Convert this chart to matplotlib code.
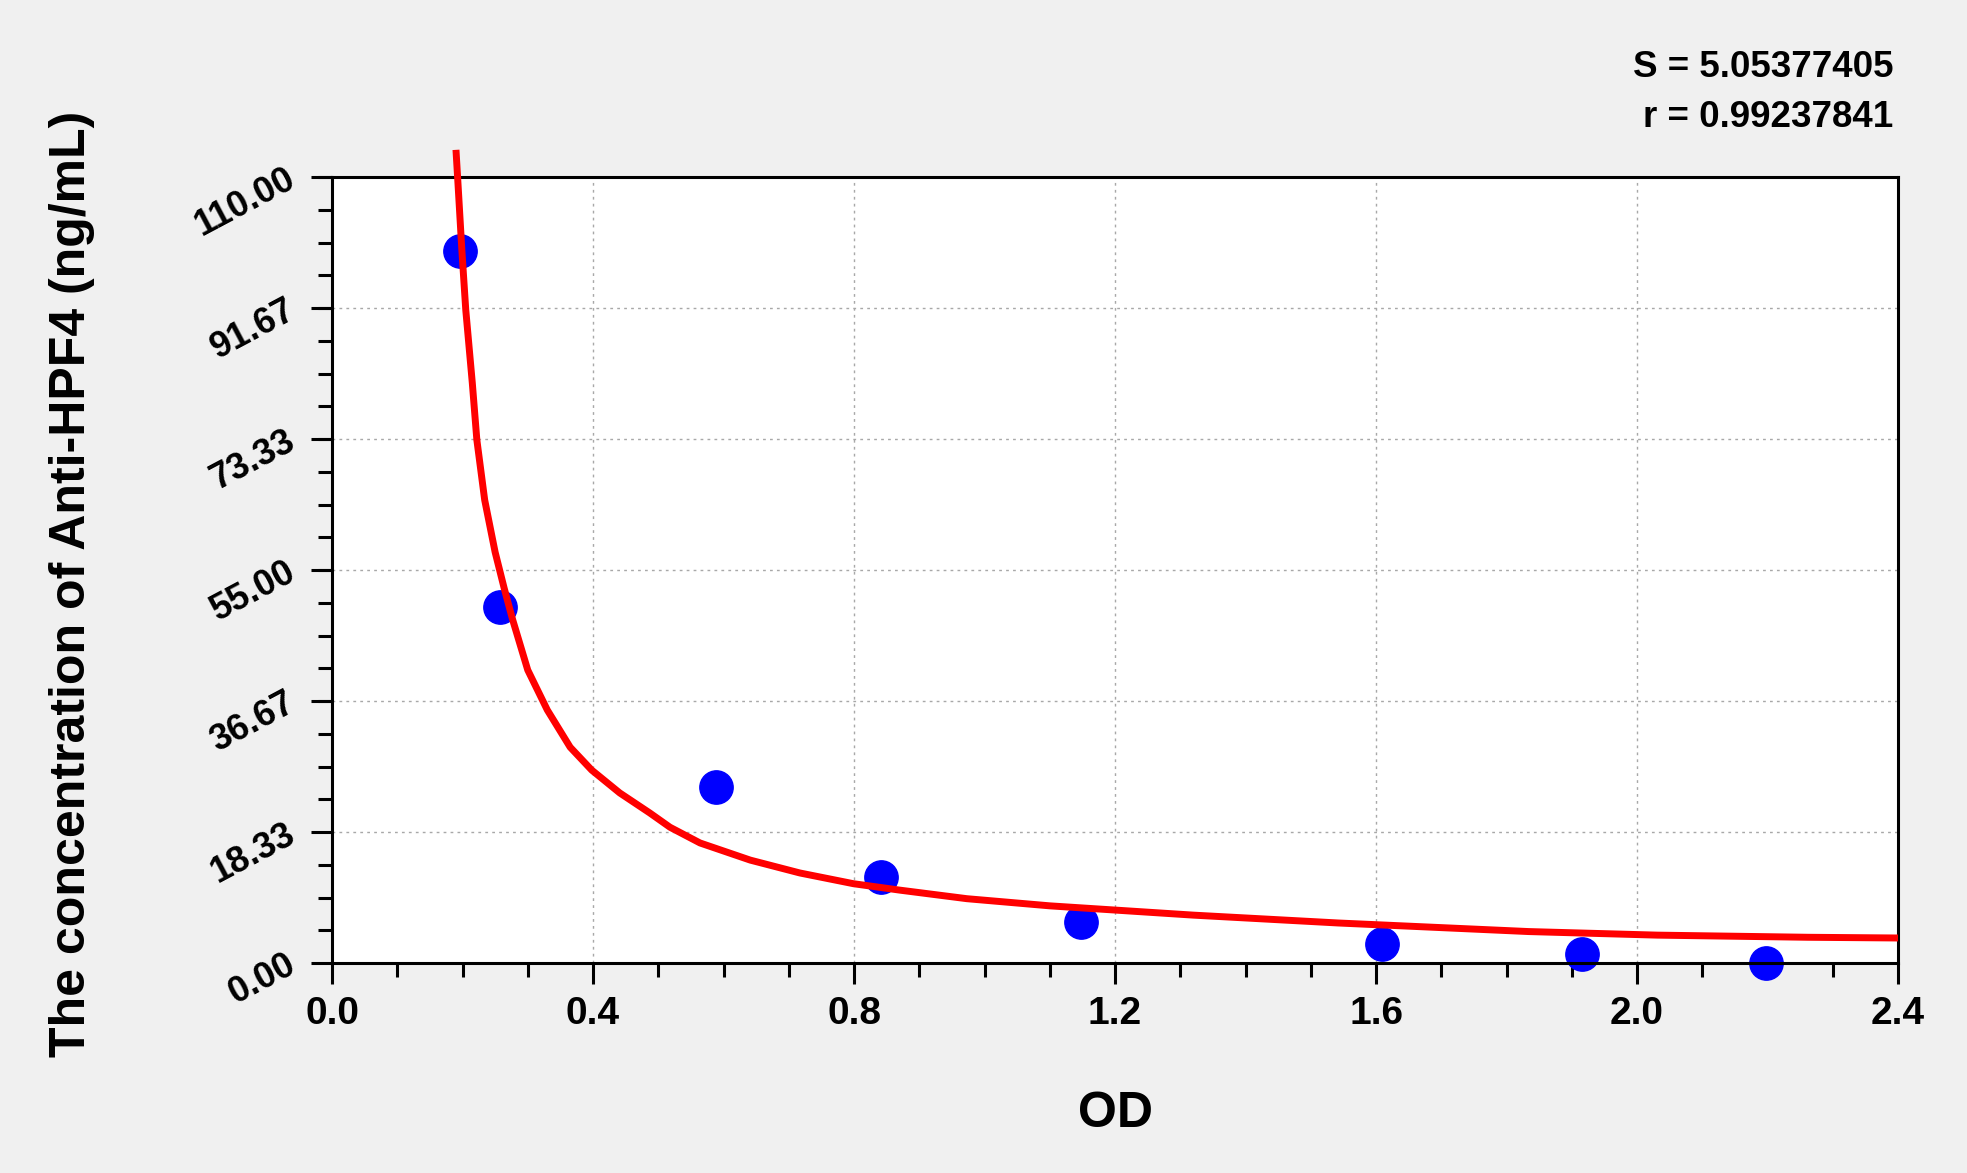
import numpy as np
import matplotlib
matplotlib.use('Agg')
import matplotlib.pyplot as plt
from matplotlib.ticker import AutoMinorLocator, FormatStrFormatter

# standard points (OD, concentration)
od = [0.196, 0.258, 0.588, 0.842, 1.148, 1.609, 1.916, 2.198]
conc = [99.6, 49.8, 24.6, 12.1, 5.8, 2.6, 1.3, 0.0]

# fitted curve
curve_od = [0.190, 0.193, 0.199, 0.205, 0.215, 0.222, 0.234, 0.250, 0.264,
            0.277, 0.300, 0.330, 0.365, 0.398, 0.441, 0.487, 0.518, 0.564,
            0.641, 0.717, 0.799, 0.870, 0.973, 1.100, 1.320, 1.542, 1.834,
            2.031, 2.262, 2.400]
curve_conc = [113.8, 109.2, 99.8, 91.4, 81.2, 73.2, 64.8, 57.5, 52.4,
              48.0, 41.0, 35.4, 30.2, 27.0, 23.8, 21.0, 19.0, 16.8,
              14.4, 12.6, 11.1, 10.2, 9.0, 8.0, 6.7, 5.6, 4.4,
              3.9, 3.6, 3.5]

x_ticks = [0.0, 0.4, 0.8, 1.2, 1.6, 2.0, 2.4]
y_ticks = [0.0, 18.33, 36.67, 55.0, 73.33, 91.67, 110.0]

plt.rcParams['font.family'] = ['Liberation Sans', 'DejaVu Sans']
plt.rcParams['font.weight'] = 'bold'

fig = plt.figure(figsize=(19.67, 11.73), dpi=100, facecolor='#f0f0f0')
ax = fig.add_axes([332/1967, 1-963/1173, 1566/1967, 786/1173])
ax.set_facecolor('white')

ax.plot(curve_od, curve_conc, color='#ff0000', lw=5, clip_on=False, zorder=3,
        solid_capstyle='butt', solid_joinstyle='round')
ax.plot(od, conc, 'o', color='#0000ff', ms=24, mec='#0000ff', clip_on=False, zorder=2)

ax.set_xlim(0, 2.4)
ax.set_ylim(0, 110)
ax.set_xticks(x_ticks)
ax.set_yticks(y_ticks)
ax.xaxis.set_major_formatter(FormatStrFormatter('%.1f'))
ax.yaxis.set_major_formatter(FormatStrFormatter('%.2f'))
ax.xaxis.set_minor_locator(AutoMinorLocator(4))
ax.yaxis.set_minor_locator(AutoMinorLocator(4))

ax.grid(True, which='major', color='#a8a8a8', lw=1, ls=(0, (2, 3)))
for s in ax.spines.values():
    s.set_linewidth(2.2)

ax.tick_params(which='major', length=15, width=2.2, direction='out')
ax.tick_params(which='minor', length=10, width=2.2, direction='out')
ax.tick_params(axis='x', which='major', labelsize=28, pad=9)
ax.tick_params(axis='y', which='major', labelsize=26, pad=13)
for lab in ax.get_yticklabels():
    lab.set_rotation(28)
    lab.set_rotation_mode('anchor')
    lab.set_ha('right')
    lab.set_va('center')
    lab.set_fontweight('bold')
for lab in ax.get_xticklabels():
    lab.set_fontweight('bold')

fig.text(72/1967, 1-584/1173, 'The concentration of Anti-HPF4 (ng/mL)',
         rotation=90, ha='center', va='center', fontsize=36, fontweight='bold')
fig.text(1115/1967, 1-1114/1173, 'OD', ha='center', va='center',
         fontsize=36, fontweight='bold')
fig.text(1893/1967, 1-77/1173, 'S = 5.05377405', ha='right', va='baseline',
         fontsize=26.5, fontweight='bold')
fig.text(1893/1967, 1-127/1173, 'r = 0.99237841', ha='right', va='baseline',
         fontsize=26.5, fontweight='bold')

fig.savefig('out.png', dpi=100, facecolor=fig.get_facecolor())
